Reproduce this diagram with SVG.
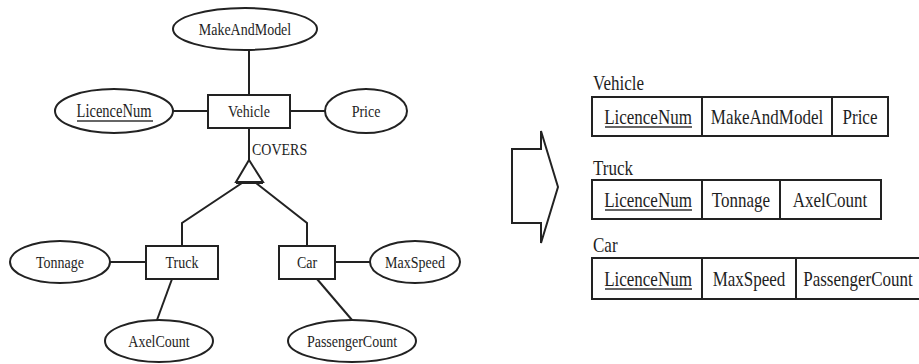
<svg xmlns="http://www.w3.org/2000/svg" width="919" height="364" viewBox="0 0 919 364">
  <style>
    .shape { fill: #fff; stroke: #222; stroke-width: 2; }
    .link { fill: none; stroke: #222; stroke-width: 2; }
    .lbl { font-family: "Liberation Serif", "Times New Roman", serif; font-size: 14px; fill: #1e1e1e; text-anchor: middle; }
    .cell { font-family: "Liberation Serif", "Times New Roman", serif; font-size: 17px; fill: #1e1e1e; text-anchor: middle; }
    .title { font-family: "Liberation Serif", "Times New Roman", serif; font-size: 17px; fill: #1e1e1e; }
    .key { stroke: #333; stroke-width: 1.5; }
  </style>
  <rect width="919" height="364" fill="#fff"/>

  <!-- connectors of the ER diagram -->
  <g id="connectors">
    <line class="link" x1="249" y1="50" x2="249" y2="95"/>
    <line class="link" x1="173" y1="111" x2="208" y2="111"/>
    <line class="link" x1="290" y1="111" x2="325" y2="111"/>
    <line class="link" x1="249" y1="128" x2="249" y2="160"/>
    <polyline class="link" points="242,183 182,223 182,246"/>
    <polyline class="link" points="256,183 307,223 307,246"/>
    <line class="link" x1="110" y1="262" x2="146" y2="262"/>
    <line class="link" x1="335" y1="262" x2="370" y2="262"/>
    <line class="link" x1="172" y1="279" x2="157" y2="320"/>
    <line class="link" x1="317" y1="279" x2="352" y2="320"/>
    <text class="lbl" transform="translate(252 155) scale(1 1.25)" style="text-anchor:start">COVERS</text>
  </g>

  <!-- entities -->
  <g id="vehicle">
    <rect class="shape" x="208" y="95" width="82" height="33"/>
    <text class="lbl" transform="translate(249 117) scale(1 1.25)">Vehicle</text>
  </g>
  <g id="truck">
    <rect class="shape" x="146" y="246" width="72" height="33"/>
    <text class="lbl" transform="translate(182 268) scale(1 1.25)">Truck</text>
  </g>
  <g id="car">
    <rect class="shape" x="279" y="246" width="56" height="33"/>
    <text class="lbl" transform="translate(307 268) scale(1 1.25)">Car</text>
  </g>

  <!-- specialisation triangle -->
  <g id="covers">
    <polygon class="shape" points="249,160 236,182 263,182"/>
    <line class="link" x1="236" y1="183" x2="263" y2="183" stroke-width="2.5"/>
  </g>

  <!-- attributes -->
  <g id="makeandmodel">
    <ellipse class="shape" cx="245" cy="29" rx="72" ry="21"/>
    <text class="lbl" transform="translate(245 35) scale(1 1.25)">MakeAndModel</text>
  </g>
  <g id="licencenum">
    <ellipse class="shape" cx="114" cy="111" rx="59" ry="22"/>
    <text class="lbl" transform="translate(114 117) scale(1 1.25)" style="font-size:14.5px">LicenceNum</text>
    <line class="key" x1="77" y1="121" x2="153" y2="121"/>
  </g>
  <g id="price">
    <ellipse class="shape" cx="366" cy="111" rx="41" ry="22"/>
    <text class="lbl" transform="translate(366 117) scale(1 1.25)">Price</text>
  </g>
  <g id="tonnage">
    <ellipse class="shape" cx="60" cy="262" rx="50" ry="21"/>
    <text class="lbl" transform="translate(60 268) scale(1 1.25)">Tonnage</text>
  </g>
  <g id="maxspeed">
    <ellipse class="shape" cx="415" cy="262" rx="45" ry="21"/>
    <text class="lbl" transform="translate(415 268) scale(1 1.25)">MaxSpeed</text>
  </g>
  <g id="axelcount">
    <ellipse class="shape" cx="159" cy="341" rx="54" ry="21"/>
    <text class="lbl" transform="translate(159 347) scale(1 1.25)">AxelCount</text>
  </g>
  <g id="passengercount">
    <ellipse class="shape" cx="352" cy="341" rx="64" ry="21"/>
    <text class="lbl" transform="translate(352 347) scale(1 1.25)">PassengerCount</text>
  </g>

  <!-- transformation arrow -->
  <g id="arrow">
    <polygon class="shape" points="512,149 541,149 541,131 558,187 541,243 541,223 512,223"/>
  </g>

  <!-- relational tables -->
  <g id="table-vehicle">
    <text class="title" transform="translate(593 90) scale(1 1.25)">Vehicle</text>
    <rect class="shape" x="592" y="97" width="296" height="39"/>
    <line class="link" x1="702" y1="97" x2="702" y2="136"/>
    <line class="link" x1="832" y1="97" x2="832" y2="136"/>
    <text class="cell" transform="translate(648 124) scale(1 1.25)">LicenceNum</text>
    <line class="key" x1="605" y1="127" x2="692" y2="127"/>
    <text class="cell" transform="translate(767 124) scale(1 1.25)">MakeAndModel</text>
    <text class="cell" transform="translate(860 124) scale(1 1.25)">Price</text>
  </g>
  <g id="table-truck">
    <text class="title" transform="translate(593 175) scale(1 1.25)">Truck</text>
    <rect class="shape" x="592" y="180" width="289" height="39"/>
    <line class="link" x1="702" y1="180" x2="702" y2="219"/>
    <line class="link" x1="780" y1="180" x2="780" y2="219"/>
    <text class="cell" transform="translate(648 207) scale(1 1.25)">LicenceNum</text>
    <line class="key" x1="605" y1="210" x2="692" y2="210"/>
    <text class="cell" transform="translate(741 207) scale(1 1.25)">Tonnage</text>
    <text class="cell" transform="translate(830 207) scale(1 1.25)">AxelCount</text>
  </g>
  <g id="table-car">
    <text class="title" transform="translate(593 252) scale(1 1.25)">Car</text>
    <rect class="shape" x="592" y="258" width="330" height="41"/>
    <line class="link" x1="702" y1="258" x2="702" y2="299"/>
    <line class="link" x1="796" y1="258" x2="796" y2="299"/>
    <text class="cell" transform="translate(648 286) scale(1 1.25)">LicenceNum</text>
    <line class="key" x1="605" y1="289" x2="692" y2="289"/>
    <text class="cell" transform="translate(749 286) scale(1 1.25)">MaxSpeed</text>
    <text class="cell" transform="translate(858 286) scale(1 1.25)">PassengerCount</text>
  </g>
</svg>
